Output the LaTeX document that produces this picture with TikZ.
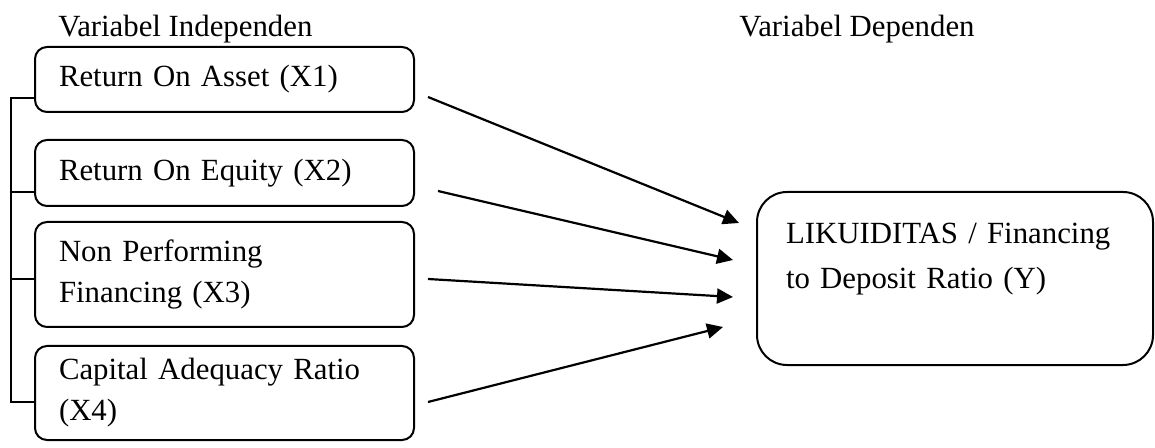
\documentclass[tikz,border=0pt]{standalone}
\usepackage{fontspec}
\setmainfont{Liberation Serif}
\usetikzlibrary{arrows.meta}
\begin{document}
\begin{tikzpicture}[x=0.5pt,y=-0.5pt,
  every node/.style={font=\fontsize{15.4pt}{20.5pt}\selectfont},
  varbox/.style={draw,line width=1pt,rounded corners=6pt,minimum width=189.5pt,
    text width=165.5pt,inner xsep=12pt,inner ysep=0pt,align=left},
  depbox/.style={draw,line width=1pt,rounded corners=15pt,minimum width=198pt,
    minimum height=86.5pt,text width=169pt,inner xsep=14.5pt,inner ysep=0pt,align=left,
    font=\fontsize{15.4pt}{22.5pt}\selectfont},
  headlbl/.style={anchor=base west,inner sep=0pt},
  arr/.style={line width=1.1pt,-{Triangle[length=8pt,width=7.5pt]}},
  brk/.style={line width=0.8pt}]
\useasboundingbox (0,0) rectangle (1155,448);
\node[headlbl] (hi) at (58,37) {Variabel Independen};
\node[headlbl] (hd) at (739,37) {Variabel Dependen};
\node[varbox,minimum height=32.5pt] (b1) at (224.5,79.5) {Return On Asset (X1)};
\node[varbox,minimum height=33pt] (b2) at (224.5,173) {Return On Equity (X2)};
\node[varbox,minimum height=52.5pt] (b3) at (224.5,274.5) {Non Performing\\Financing (X3)};
\node[varbox,minimum height=47pt] (b4) at (224.5,393) {Capital Adequacy Ratio\\(X4)};
\node[depbox] (y) at (955,278.5) {LIKUIDITAS / Financing\\to Deposit Ratio (Y)\\\mbox{}};
% bracket
\draw[brk] ([yshift=-9.25pt]b1.west) -- ++(-11.5pt,0) |- ([yshift=-4.5pt]b4.west);
\draw[brk] ([yshift=-9.5pt]b2.west) -- ++(-11.5pt,0);
\draw[brk] ([yshift=-2.25pt]b3.west) -- ++(-11.5pt,0);
% arrows
\draw[arr] ([xshift=6.5pt,yshift=-8.75pt]b1.east) -- ([xshift=-8.5pt,yshift=27.75pt]y.west);
\draw[arr] ([xshift=11.5pt,yshift=-9pt]b2.east) -- ([xshift=-11.5pt,yshift=9.25pt]y.west);
\draw[arr] ([xshift=6.5pt,yshift=-2.25pt]b3.east) -- ([xshift=-11.5pt,yshift=-9.25pt]y.west);
\draw[arr] ([xshift=6.5pt,yshift=-4.5pt]b4.east) -- ([xshift=-16.5pt,yshift=-24.25pt]y.west);
\end{tikzpicture}
\end{document}
